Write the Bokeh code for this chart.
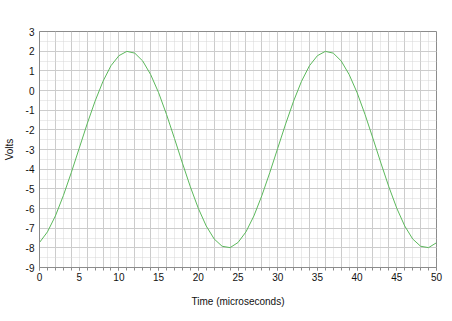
from bokeh.plotting import figure
from bokeh.models import Range1d, SingleIntervalTicker, Grid, PrintfTickFormatter
from bokeh.embed import file_html
from bokeh.resources import INLINE

time_us = [0, 1, 2, 3, 4, 5, 6, 7, 8, 9, 10, 11, 12, 13, 14, 15, 16, 17, 18, 19, 20,
           21, 22, 23, 24, 25, 26, 27, 28, 29, 30, 31, 32, 33, 34, 35, 36, 37, 38, 39, 40,
           41, 42, 43, 44, 45, 46, 47, 48, 49, 50]
volts = [-7.73, -7.19, -6.38, -5.35, -4.18, -2.94, -1.70, -0.54, 0.47, 1.26, 1.77,
         1.99, 1.90, 1.50, 0.81, -0.11, -1.22, -2.44, -3.69, -4.90, -5.99,
         -6.89, -7.55, -7.92, -7.99, -7.73, -7.19, -6.38, -5.35, -4.18, -2.94,
         -1.70, -0.54, 0.47, 1.26, 1.77, 1.99, 1.90, 1.50, 0.81, -0.11,
         -1.22, -2.44, -3.69, -4.90, -5.99, -6.89, -7.55, -7.92, -7.99, -7.74]

FONT = "Liberation Sans"

p = figure(width=452, height=321, output_backend="svg", toolbar_location=None,
           x_range=Range1d(0, 50), y_range=Range1d(-9, 3))
p.min_border_left = 38
p.min_border_right = 16
p.min_border_top = 31
p.min_border_bottom = 54
p.background_fill_color = "white"
p.border_fill_color = "white"
p.outline_line_color = "#8c8c8c"
p.outline_line_width = 1

p.xgrid.visible = False
p.ygrid.visible = False

xg = Grid(dimension=0, ticker=SingleIntervalTicker(interval=2, num_minor_ticks=2),
          grid_line_color="#cccccc", grid_line_width=1,
          minor_grid_line_color="#d6d6d6", minor_grid_line_dash="1 1")
yg = Grid(dimension=1, ticker=SingleIntervalTicker(interval=1, num_minor_ticks=2),
          grid_line_color="#cccccc", grid_line_width=1,
          minor_grid_line_color="#d6d6d6", minor_grid_line_dash="1 1")
p.add_layout(xg)
p.add_layout(yg)

p.line(time_us, volts, line_color="#5cb85c", line_width=1)

p.xaxis.ticker = SingleIntervalTicker(interval=5, num_minor_ticks=5)
p.yaxis.ticker = SingleIntervalTicker(interval=1, num_minor_ticks=0)
p.xaxis.formatter = PrintfTickFormatter(format="%d")
p.yaxis.formatter = PrintfTickFormatter(format="%d")

for ax in (p.xaxis[0], p.yaxis[0]):
    ax.axis_line_color = "#8c8c8c"
    ax.major_tick_line_color = "#8c8c8c"
    ax.minor_tick_line_color = "#8c8c8c"
    ax.major_label_text_font = FONT
    ax.major_label_text_font_size = "10px"
    ax.major_label_text_color = "#111111"
    ax.axis_label_text_font = FONT
    ax.axis_label_text_font_size = "10px"
    ax.axis_label_text_font_style = "normal"
    ax.axis_label_text_color = "#111111"

p.xaxis.axis_label = "Time (microseconds)"
p.xaxis.major_tick_in = 0
p.xaxis.major_tick_out = 3
p.xaxis.minor_tick_in = 0
p.xaxis.minor_tick_out = 3
p.xaxis.major_label_standoff = 2
p.xaxis.axis_label_standoff = 12

p.yaxis.axis_label = "Volts"
p.yaxis.major_tick_in = 0
p.yaxis.major_tick_out = 0
p.yaxis.minor_tick_in = 0
p.yaxis.minor_tick_out = 0
p.yaxis.major_label_standoff = 5
p.yaxis.axis_label_standoff = 8

open("out.html", "w").write(file_html(p, INLINE))
